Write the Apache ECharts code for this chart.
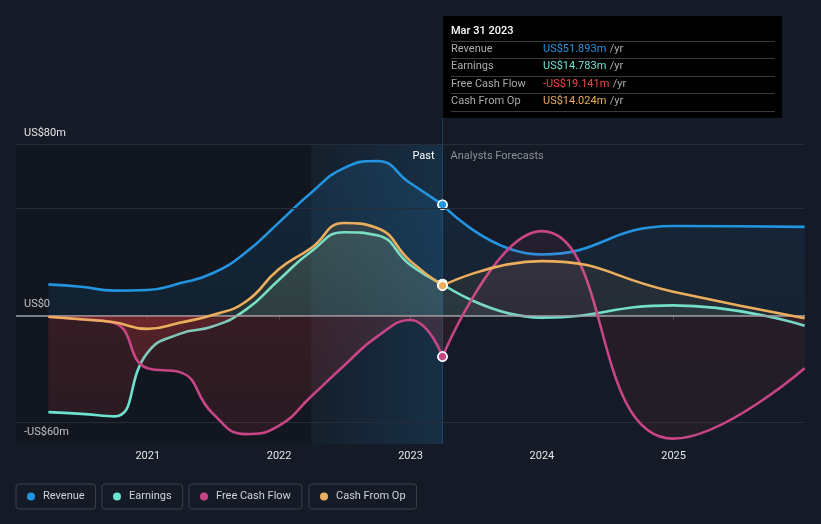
<!DOCTYPE html>
<html><head><meta charset="utf-8">
<script src="https://cdn.jsdelivr.net/npm/echarts@6/dist/echarts.min.js"></script>
<style>html,body{margin:0;padding:0;background:#151b26;}#c{width:821px;height:524px;}</style>
</head><body><div id="c"></div>
<script>
// ---- data ----
const dates = ['2020-03-31','2020-06-30','2020-09-30','2020-12-31','2021-03-31','2021-06-30','2021-09-30','2021-12-31',
  '2022-03-31','2022-06-30','2022-09-30','2022-12-31','2023-03-31','2023-12-31','2024-12-31','2025-12-31'];
const revenue  = [14.6, 13.5, 11.7, 12.0, 15.1, 19.8, 29.5, 43.5, 57.5, 69.0, 72.3, 62.0, 51.893, 28.6, 41.9, 41.5];
const earnings = [-45.1, -45.9, -47.1, -17.4, -8.5, -5.1, 2.7, 16.7, 30.0, 39.0, 37.6, 23.8, 14.783, -0.9, 4.8, -4.7];
const fcf      = [-0.5, -1.7, -3.4, -24.6, -26.4, -45.6, -55.4, -51.5, -37.8, -23.4, -9.8, -2.0, -19.141, 39.5, -57.5, -24.6];
const cfo      = [-0.5, -1.7, -3.1, -6.2, -3.3, 0.3, 6.5, 21.7, 31.6, 43.3, 41.0, 25.6, 14.024, 25.5, 11.2, -1.2];
const seriesNames = ['Revenue', 'Earnings', 'Free Cash Flow', 'Cash From Op'];
const seriesColors = ['#2394df', '#6ce3d0', '#c74585', '#eaae5d'];
const xTickLabels = ['2021', '2022', '2023', '2024', '2025'];
const yTickValues = [-60, 0, 80];
const yTickLabels = ['-US$60m', 'US$0', 'US$80m'];
const gridValues = [80, 50, -50];
const axisStart = '2020-01-01';
const axisEnd = '2026-01-01';
const pastStart = '2022-03-31';
const pastEnd = '2023-03-31';
const tooltipDate = 'Mar 31 2023';
const tipIndex = 12;   // last reported point; later points are analyst forecasts

// ---- chart ----
const FONT = 'Roboto, "Noto Sans", sans-serif';
const chart = echarts.init(document.getElementById('c'), null, {renderer: 'canvas'});
function ts(s) { const p = s.split('-').map(Number); return new Date(p[0], p[1] - 1, p[2]).getTime(); }
const xMin = ts(axisStart), xMax = ts(axisEnd);
const xTicks = xTickLabels.map(y => ts(y + '-01-01'));
const allSeries = [revenue, earnings, fcf, cfo];

function hexA(hex, a) {
  const n = parseInt(hex.slice(1), 16);
  return 'rgba(' + ((n >> 16) & 255) + ',' + ((n >> 8) & 255) + ',' + (n & 255) + ',' + a + ')';
}
function fmt(v) { return (v < 0 ? '-US$' : 'US$') + Math.abs(v).toFixed(3) + 'm'; }

function pointData(vals, from, to, i) {
  const out = [];
  for (let k = from; k <= to; k++) {
    out.push(k === tipIndex
      ? {value: [ts(dates[k]), vals[k]], symbol: 'circle', symbolSize: 9,
         itemStyle: {color: seriesColors[i], borderColor: '#ffffff', borderWidth: 1.5}}
      : {value: [ts(dates[k]), vals[k]], symbol: 'none'});
  }
  return out;
}

const series = [];
allSeries.forEach((vals, i) => {
  const common = {
    name: seriesNames[i], type: 'line', smooth: 0.5,
    symbol: 'none', showSymbol: true, showAllSymbol: true,
    lineStyle: {width: 2.6, color: seriesColors[i]},
    itemStyle: {color: seriesColors[i]},
    emphasis: {disabled: true}
  };
  series.push(Object.assign({}, common, {id: 'p' + i, z: 3 + i, data: pointData(vals, 0, tipIndex, i)}));
  series.push(Object.assign({}, common, {id: 'f' + i, z: 3 + i, data: pointData(vals, tipIndex, dates.length - 1, i)}));
});

series.push({
  id: 'frame', name: '_frame', type: 'line', data: [], silent: true, z: 1,
  markArea: {
    silent: true,
    data: [
      [{xAxis: xMin, yAxis: -60, itemStyle: {color: 'rgba(0,0,0,0.18)'}}, {xAxis: ts(pastStart), yAxis: 80}],
      [{xAxis: ts(pastStart), yAxis: -60,
        itemStyle: {color: new echarts.graphic.LinearGradient(0, 0, 1, 0, [
          {offset: 0, color: 'rgba(35,148,223,0.03)'}, {offset: 1, color: 'rgba(35,148,223,0.17)'}])},
        label: {show: true, position: 'insideTopRight', distance: 0, padding: [6, 8, 0, 0],
          formatter: 'Past', color: '#ffffff', fontSize: 11, fontFamily: FONT}},
       {xAxis: ts(pastEnd), yAxis: 80}],
      [{xAxis: ts(pastEnd), yAxis: -60, itemStyle: {color: 'rgba(0,0,0,0)'},
        label: {show: true, position: 'insideTopLeft', distance: 0, padding: [6, 0, 0, 8],
          formatter: 'Analysts Forecasts', color: '#8b9099', fontSize: 11, fontFamily: FONT}},
       {xAxis: xMax, yAxis: 80}]
    ]
  },
  markLine: {
    silent: true, symbol: 'none', animation: false,
    label: {show: false},
    data: gridValues.map(v => ({yAxis: v, lineStyle: {color: '#262c38', width: 1, type: 'solid'}}))
      .concat([{yAxis: 0, lineStyle: {color: '#9a9ea6', width: 1.5, type: 'solid'}}])
      .concat([{xAxis: ts(pastEnd), lineStyle: {color: 'rgba(35,148,223,0.28)', width: 1, type: 'solid'}}])
  }
});

const legends = seriesNames.map((n, i) => ({
  data: [n], left: [16, 102, 189, 309][i], top: 484, orient: 'horizontal',
  icon: 'circle', itemWidth: 14, itemHeight: 8, selectedMode: false,
  borderColor: '#3b414c', borderWidth: 1, borderRadius: 3, padding: [7, 11, 7, 11],
  textStyle: {color: '#cfd2d6', fontSize: 11, fontFamily: FONT}
}));

const tipRows = allSeries.map((vals, i) => ({name: seriesNames[i], value: vals[tipIndex], color: i === 2 ? '#f04848' : seriesColors[i]}));
const graphics = [
  {type: 'rect', shape: {x: 443, y: 16, width: 339, height: 102}, style: {fill: '#000000'}, z: 100},
  {type: 'text', x: 451, y: 31, style: {text: tooltipDate, fill: '#ffffff', font: '500 11px ' + FONT, verticalAlign: 'middle'}, z: 101}
];
[41, 58, 76, 93, 111].forEach(y => graphics.push({type: 'rect', shape: {x: 451, y: y, width: 324, height: 1}, style: {fill: '#3a3a3a'}, z: 101}));
tipRows.forEach((r, k) => {
  const cy = [49.5, 66.5, 84, 101.5][k];
  graphics.push({type: 'text', x: 451, y: cy, style: {text: r.name, fill: '#a9abae', font: '11px ' + FONT, verticalAlign: 'middle'}, z: 101});
  graphics.push({type: 'text', x: 543, y: cy, style: {
    text: '{v|' + fmt(r.value) + '} {u|/yr}', verticalAlign: 'middle',
    rich: {v: {fill: r.color, font: '11px ' + FONT}, u: {fill: '#a9abae', font: '11px ' + FONT}}}, z: 101});
});

const option = {
  backgroundColor: '#151b26',
  animation: false,
  textStyle: {fontFamily: FONT},
  grid: {left: 16, right: 16, top: 118, bottom: 80, containLabel: false},
  legend: legends,
  xAxis: {
    type: 'value', min: xMin, max: xMax,
    axisLine: {show: true, lineStyle: {color: '#3c424e', width: 1}},
    axisTick: {show: true, customValues: xTicks, length: 4, lineStyle: {color: '#4a505c'}},
    axisLabel: {customValues: xTicks, color: '#e6e6e6', fontSize: 11, fontFamily: FONT, margin: 7,
      formatter: v => { const k = xTicks.indexOf(v); return k >= 0 ? xTickLabels[k] : ''; }},
    splitLine: {show: false}
  },
  yAxis: {
    type: 'value', min: -60, max: 92.4,
    axisLine: {show: false}, axisTick: {show: false}, splitLine: {show: false},
    axisLabel: {inside: true, customValues: yTickValues, margin: 8, color: '#e6e6e6', fontSize: 11, fontFamily: FONT,
      verticalAlign: 'bottom', padding: [0, 0, 6, 0],
      formatter: v => { const k = yTickValues.indexOf(v); return k >= 0 ? yTickLabels[k] : ''; }}
  },
  graphic: graphics,
  series: series
};
chart.setOption(option);

// area gradients: series colour above zero, red below zero (global pixel coordinates)
const yTop = chart.convertToPixel({yAxisIndex: 0}, 92.4);
const yBot = chart.convertToPixel({yAxisIndex: 0}, -60);
const y0 = chart.convertToPixel({yAxisIndex: 0}, 0);
const f = (y0 - yTop) / (yBot - yTop);
function grad(c, aTop, aZero, rZero, rBot) {
  return new echarts.graphic.LinearGradient(0, yTop, 0, yBot, [
    {offset: 0, color: hexA(c, aTop)}, {offset: f, color: hexA(c, aZero)},
    {offset: f, color: 'rgba(235,60,60,' + rZero + ')'}, {offset: 1, color: 'rgba(235,60,60,' + rBot + ')'}], true);
}
const upd = [];
seriesColors.forEach((c, i) => {
  upd.push({id: 'p' + i, areaStyle: {color: grad(c, 0.22, 0.13, 0.24, 0.15)}});
  upd.push({id: 'f' + i, areaStyle: {color: grad(c, 0.16, 0.09, 0.11, 0.09)}});
});
chart.setOption({series: upd});
</script>
</body></html>
